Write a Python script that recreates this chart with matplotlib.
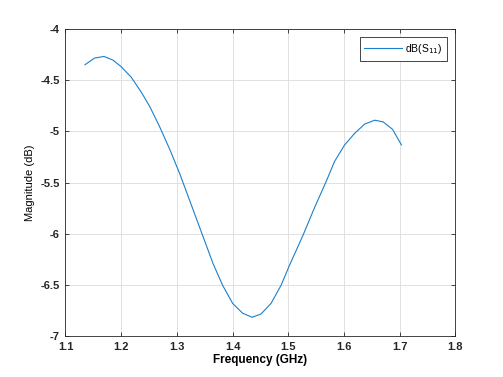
import matplotlib

matplotlib.use("Agg")
import matplotlib.pyplot as plt

# S11 magnitude
freq_ghz = [1.135, 1.152, 1.169, 1.185, 1.200, 1.218, 1.236, 1.251, 1.269, 1.287,
            1.305, 1.323, 1.344, 1.365, 1.382, 1.400, 1.418, 1.435, 1.451, 1.469,
            1.487, 1.502, 1.526, 1.547, 1.568, 1.583, 1.601, 1.619, 1.637, 1.655,
            1.670, 1.687, 1.703]
mag_db = [-4.349, -4.284, -4.268, -4.303, -4.368, -4.471, -4.617, -4.755, -4.955, -5.174,
          -5.413, -5.677, -5.986, -6.294, -6.504, -6.681, -6.778, -6.817, -6.785, -6.681,
          -6.504, -6.310, -6.020, -5.746, -5.489, -5.294, -5.133, -5.020, -4.929, -4.891,
          -4.907, -4.980, -5.133]

x_ticks = [1.1, 1.2, 1.3, 1.4, 1.5, 1.6, 1.7, 1.8]
y_ticks = [-7, -6.5, -6, -5.5, -5, -4.5, -4]

LINE_COLOR = "#1a80cc"
AXIS_COLOR = "#262626"

plt.rcParams["font.family"] = ["Liberation Sans", "DejaVu Sans"]

fig = plt.figure(figsize=(5.03, 3.77), dpi=100)
ax = fig.add_axes([0.1302, 0.1088, 0.7753, 0.8142])

ax.plot(freq_ghz, mag_db, color=LINE_COLOR, linewidth=0.8, label="dB(S$_{11}$)")

ax.set_xlim(1.1, 1.8)
ax.set_ylim(-7, -4)
ax.set_xticks(x_ticks)
ax.set_yticks(y_ticks)
ax.set_xticklabels([f"{t:g}" for t in x_ticks])
ax.set_yticklabels([f"{t:g}" for t in y_ticks])
ax.grid(True, color="#dcdcdc", linewidth=0.6)
ax.set_axisbelow(True)
ax.tick_params(direction="in", top=True, right=True, length=3, width=0.6,
               colors=AXIS_COLOR, labelsize=8, pad=4)
for lab in ax.get_xticklabels() + ax.get_yticklabels():
    lab.set_fontweight("bold")
for s in ax.spines.values():
    s.set_color(AXIS_COLOR)
    s.set_linewidth(0.6)

ax.set_xlabel("Frequency (GHz)", fontsize=8.5, fontweight="bold", labelpad=2)
ax.set_ylabel("Magnitude (dB)", fontsize=8, labelpad=4)

leg = ax.legend(loc="upper right", fontsize=7.5, handlelength=3.6, handletextpad=0.3,
                fancybox=False, framealpha=1, borderaxespad=0.8, borderpad=0.45)
leg.get_frame().set_edgecolor(AXIS_COLOR)
leg.get_frame().set_linewidth(0.6)

fig.savefig("out.png", dpi=100, facecolor="white")
